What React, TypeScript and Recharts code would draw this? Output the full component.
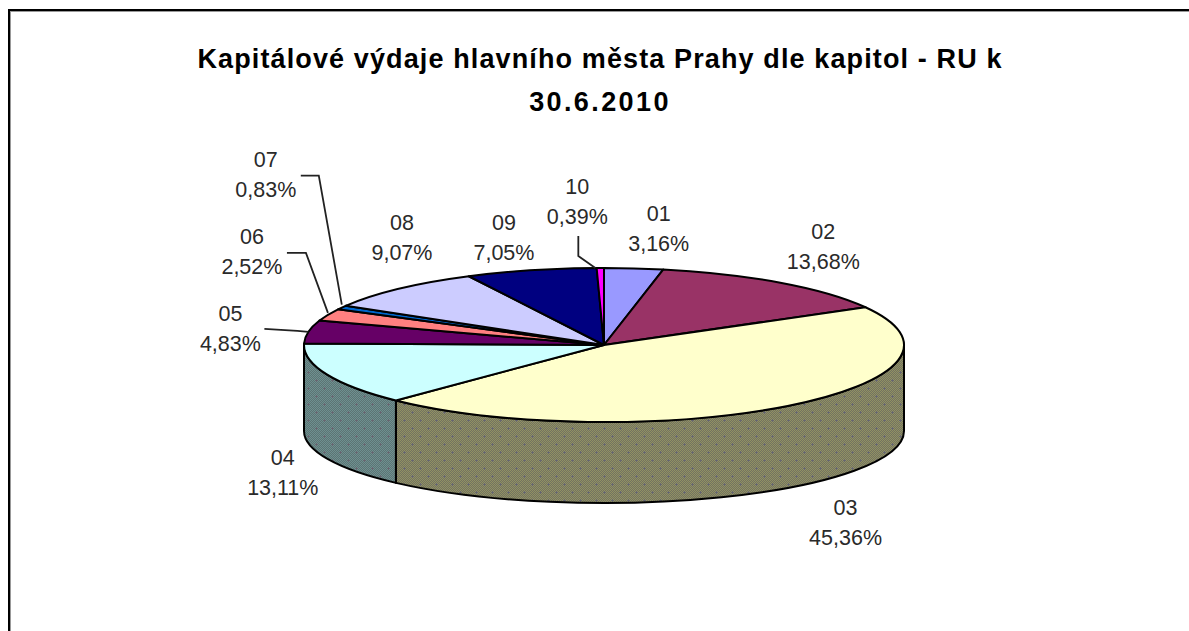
import React from "react";
import { PieChart, Pie } from "recharts";

const categories = ["01", "02", "03", "04", "05", "06", "07", "08", "09", "10"];
const shares = [3.16, 13.68, 45.36, 13.11, 4.83, 2.52, 0.83, 9.07, 7.05, 0.39];
const valueLabels = ["3,16%", "13,68%", "45,36%", "13,11%", "4,83%", "2,52%", "0,83%", "9,07%", "7,05%", "0,39%"];
const topColors = ["#9999FF", "#993366", "#FFFFCC", "#CCFFFF", "#660066", "#FF8080", "#0066CC", "#CCCCFF", "#000080", "#FF00FF"];
const titleLines = ["Kapitálové výdaje hlavního města Prahy dle kapitol - RU k", "30.6.2010"];

const tableRows = categories.map((name, i) => ({ name, value: shares[i], text: valueLabels[i], fill: topColors[i] }));

const CX = 604;
const CY = 345;
const RX = 300;
const RY = 77;
const BOTTOM_CY = 431;
const BOTTOM_RY = 72;

const wallFills: Record<string, string> = { "03": "url(#wallOlive)", "04": "url(#wallTeal)" };

const labelLayout: Record<string, { dx: number; dy: number; leader?: number[][] }> = {
  "01": { dx: 25, dy: -55 },
  "02": { dx: 43, dy: -52 },
  "03": { dx: 58, dy: 101 },
  "04": { dx: -44, dy: 83 },
  "05": { dx: -78, dy: -19, leader: [[-44, -3], [-11, -1], [0, 0]] },
  "06": { dx: -76, dy: -79, leader: [[-41, -62], [-22, -62], [0, -2]] },
  "07": { dx: -76, dy: -149, leader: [[-41, -132], [-23, -132], [0, -3]] },
  "08": { dx: 3, dy: -67 },
  "09": { dx: -27, dy: -48 },
  "10": { dx: -23, dy: -82, leader: [[-22, -32], [-22, -12], [-5, 0]] },
};

const rad = (d: number) => (d * Math.PI) / 180;
const px = (a: number) => CX + RX * Math.cos(rad(a));
const py = (a: number) => CY - RY * Math.sin(rad(a));
const by = (a: number) => BOTTOM_CY - BOTTOM_RY * Math.sin(rad(a));

let checker = "";
for (let y = 0; y < 16; y++) {
  for (let x = 0; x < 16; x++) {
    if ((x + y) % 2 === 0) checker += `M${x},${y}h1v1h-1z`;
  }
}
const plusMarks = "M3,4h3v1h-3zM4,3h1v3h-1zM11,12h3v1h-3zM12,11h1v3h-1z";

function EllipticSector(props: any) {
  const { startAngle, endAngle, fill, name, payload } = props;
  const key = name ?? payload?.name;
  const large = Math.abs(startAngle - endAngle) > 180 ? 1 : 0;
  const top = `M${CX},${CY} L${px(startAngle)},${py(startAngle)} A${RX},${RY} 0 ${large} 1 ${px(endAngle)},${py(endAngle)} Z`;
  const s = Math.min(startAngle, 0);
  const e = Math.max(endAngle, -180);
  const hasWall = s > e;
  const wall = hasWall
    ? `M${px(s)},${py(s)} A${RX},${RY} 0 0 1 ${px(e)},${py(e)} L${px(e)},${by(e)} A${RX},${BOTTOM_RY} 0 0 0 ${px(s)},${by(s)} Z`
    : "";
  return (
    <g>
      {hasWall && <path d={wall} fill={wallFills[key] ?? fill} stroke="#000" strokeWidth={2} strokeLinejoin="round" />}
      <path d={top} fill={fill} stroke="#000" strokeWidth={2} strokeLinejoin="round" />
    </g>
  );
}

function SliceLabel(props: any) {
  const { midAngle, name, payload } = props;
  const key = name ?? payload?.name;
  const text = payload?.text ?? props.text;
  const layout = labelLayout[key];
  const rimX = px(midAngle);
  const rimY = py(midAngle);
  const x = rimX + layout.dx;
  const y = rimY + layout.dy;
  const style = { fontFamily: "'Liberation Sans', Arial, sans-serif", fontSize: 21.5, fill: "#2a2a2a" };
  return (
    <g>
      <text x={x} y={y + 8} textAnchor="middle" style={style}>{key}</text>
      <text x={x} y={y + 38} textAnchor="middle" style={style}>{text}</text>
      {layout.leader && (
        <polyline
          points={layout.leader.map(([a, b]) => `${rimX + a},${rimY + b}`).join(" ")}
          fill="none"
          stroke="#222"
          strokeWidth={1.8}
        />
      )}
    </g>
  );
}

export default function App() {
  const shape = (p: any) => <EllipticSector {...p} />;
  return (
    <div style={{ position: "absolute", left: 0, top: 0, width: 1189, height: 631, overflow: "hidden", background: "#fff" }}>
      <div style={{ position: "absolute", left: 8, top: 9, width: 1181, height: 622, borderLeft: "2px solid #000", borderTop: "2px solid #000", boxSizing: "border-box" }} />
      <div style={{ position: "absolute", left: 10, top: 11, width: 1179, height: 620, borderLeft: "1px solid #999", borderTop: "1px solid #999", boxSizing: "border-box" }} />
      <svg width={0} height={0} style={{ position: "absolute" }}>
        <defs>
          <pattern id="wallOlive" width={16} height={16} patternUnits="userSpaceOnUse">
            <rect width={16} height={16} fill="#737360" />
            <path d={checker} fill="#919163" />
            <path d={plusMarks} fill="#666670" />
          </pattern>
          <pattern id="wallTeal" width={16} height={16} patternUnits="userSpaceOnUse">
            <rect width={16} height={16} fill="#5C7474" />
            <path d={checker} fill="#6E9090" />
            <path d={plusMarks} fill="#666670" />
          </pattern>
        </defs>
      </svg>
      <div style={{ position: "absolute", left: 0, top: 0, width: 1189, height: 631 }}>
        <PieChart width={1189} height={631} margin={{ top: 0, right: 0, bottom: 0, left: 0 }}>
          <Pie
            data={tableRows}
            dataKey="value"
            nameKey="name"
            cx={CX}
            cy={CY}
            outerRadius={RX}
            innerRadius={0}
            startAngle={90}
            endAngle={-270}
            paddingAngle={0}
            isAnimationActive={false}
            labelLine={false}
            label={(p: any) => <SliceLabel {...p} />}
            {...({ shape, activeShape: shape, inactiveShape: shape } as any)}
          />
        </PieChart>
      </div>
      <div style={{ position: "absolute", left: 0, top: 0, width: 1200, textAlign: "center", fontFamily: "'Liberation Sans', Arial, sans-serif", fontWeight: 700, fontSize: 27, color: "#000", paddingTop: 38, lineHeight: "43px" }}>
        {titleLines.map((line, i) => (
          <div key={line} style={{ letterSpacing: i === 0 ? 1.12 : 2.4 }}>{line}</div>
        ))}
      </div>
    </div>
  );
}
